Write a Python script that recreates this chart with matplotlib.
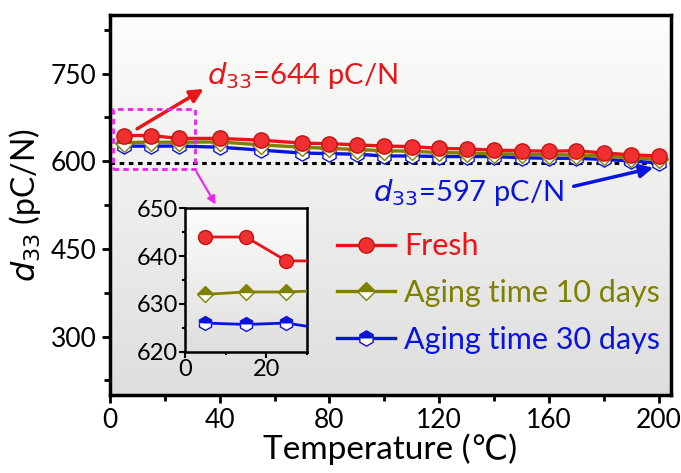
import numpy as np
import matplotlib
matplotlib.use("Agg")
import matplotlib.pyplot as plt
from matplotlib.colors import LinearSegmentedColormap
from matplotlib.patches import Rectangle
from matplotlib.ticker import MultipleLocator

plt.rcParams['font.family'] = ['Lato', 'DejaVu Sans']

# data
temps = [5, 15, 25, 40, 55, 70, 80, 90, 100, 110, 120, 130, 140, 150, 160, 170, 180, 190, 200]
fresh = [644, 644, 639, 639, 636, 631, 630, 628, 626, 625, 622, 621, 619, 618, 617, 618, 614, 611, 609]
aged10 = [632, 632.5, 632.5, 633, 628, 624, 622, 620, 618, 617, 615, 614, 613, 612, 611, 611, 609, 606, 603]
aged30 = [626, 625.7, 626, 624, 619, 614, 613, 612, 609, 609, 608, 608, 608, 606, 605, 605, 603, 600.5, 597]

labels = ['Fresh', 'Aging time 10 days', 'Aging time 30 days']
colors = ['#e8151b', '#808000', '#0a14e0']
x_ticks = [0, 40, 80, 120, 160, 200]
y_ticks = [300, 450, 600, 750]
ref_level = 597

fig = plt.figure(figsize=(6.81, 4.73), dpi=100)
ax = fig.add_axes([0.1615, 0.165, 0.824, 0.803])

bg_cmap = LinearSegmentedColormap.from_list('bg', ['#dedede', '#fdfdfb'])
grad = np.linspace(1, 0, 256).reshape(-1, 1)

def gradient_bg(a):
    a.imshow(grad, aspect='auto', cmap=bg_cmap, extent=[0, 1, 0, 1],
             transform=a.transAxes, zorder=0)

def draw(a, ms, lw):
    a.plot(temps, fresh, '-', color=colors[0], lw=lw, marker='o', ms=ms,
           mfc='#f03030', mec='#c81010', mew=1, zorder=5, label=labels[0])
    a.plot(temps, aged10, '-', color=colors[1], lw=lw, marker='D', ms=ms * 0.85,
           mfc=colors[1], mfcalt='white', fillstyle='top', mec=colors[1], mew=1,
           zorder=4, label=labels[1])
    a.plot(temps, aged30, '-', color=colors[2], lw=lw, marker='h', ms=ms,
           mfc=colors[2], mfcalt='white', fillstyle='top', mec=colors[2], mew=1,
           zorder=3, label=labels[2])

gradient_bg(ax)
draw(ax, 11, 2.4)
ax.axhline(ref_level, color='black', lw=2.2, ls=(0, (1.5, 1.5)), zorder=2)

ax.set_xlim(0, 204.5)
ax.set_ylim(200, 850)
ax.set_xticks(x_ticks)
ax.set_yticks(y_ticks)
ax.xaxis.set_minor_locator(MultipleLocator(20))
ax.yaxis.set_minor_locator(MultipleLocator(75))
ax.tick_params(which='major', direction='out', length=6, width=2, labelsize=19)
ax.tick_params(which='minor', direction='out', length=4, width=2)
for s in ax.spines.values():
    s.set_linewidth(2.5)

ax.set_xlabel('Temperature (\u2103)', fontsize=24, labelpad=0)
ax.set_ylabel('$d_{33}$ (pC/N)', fontsize=23, labelpad=6)

# zoom box and arrows
ax.add_patch(Rectangle((1, 587), 30, 103, fill=False, ec='#ee22ee', lw=2,
                       ls=(0, (2, 1.5)), zorder=6))
ax.annotate('', xy=(39, 522), xytext=(31, 586),
            arrowprops=dict(arrowstyle='-|>', color='#ee22ee', lw=1.5, mutation_scale=12))
ax.annotate('', xy=(35, 726), xytext=(9, 653),
            arrowprops=dict(arrowstyle='-|>', color=colors[0], lw=2.5, mutation_scale=20))
ax.text(35.5, 746, '$d_{33}$=644 pC/N', color=colors[0], fontsize=21, va='center')
ax.annotate('', xy=(199, 590), xytext=(168, 556),
            arrowprops=dict(arrowstyle='-|>', color=colors[2], lw=2.5, mutation_scale=20))
ax.text(96, 546, '$d_{33}$=597 pC/N', color=colors[2], fontsize=21, va='center')

leg = ax.legend(loc='center left', bbox_to_anchor=(0.382, 0.268), borderaxespad=0,
                frameon=False, fontsize=22, labelspacing=0.62, handlelength=1.9,
                handletextpad=0.3)
for t, c in zip(leg.get_texts(), colors):
    t.set_color(c)

# inset
axin = fig.add_axes([0.2717, 0.2564, 0.1787, 0.3032])
gradient_bg(axin)
draw(axin, 10, 2)
axin.set_xlim(0, 30)
axin.set_ylim(620, 650)
axin.set_xticks([0, 20])
axin.set_yticks([620, 630, 640, 650])
axin.xaxis.set_minor_locator(MultipleLocator(10))
axin.yaxis.set_minor_locator(MultipleLocator(5))
axin.tick_params(which='major', direction='out', length=4, width=1.5, labelsize=17, pad=1)
axin.tick_params(which='minor', direction='out', length=2.5, width=1.5)
for s in axin.spines.values():
    s.set_linewidth(1.8)

fig.savefig('out.png', dpi=100)
